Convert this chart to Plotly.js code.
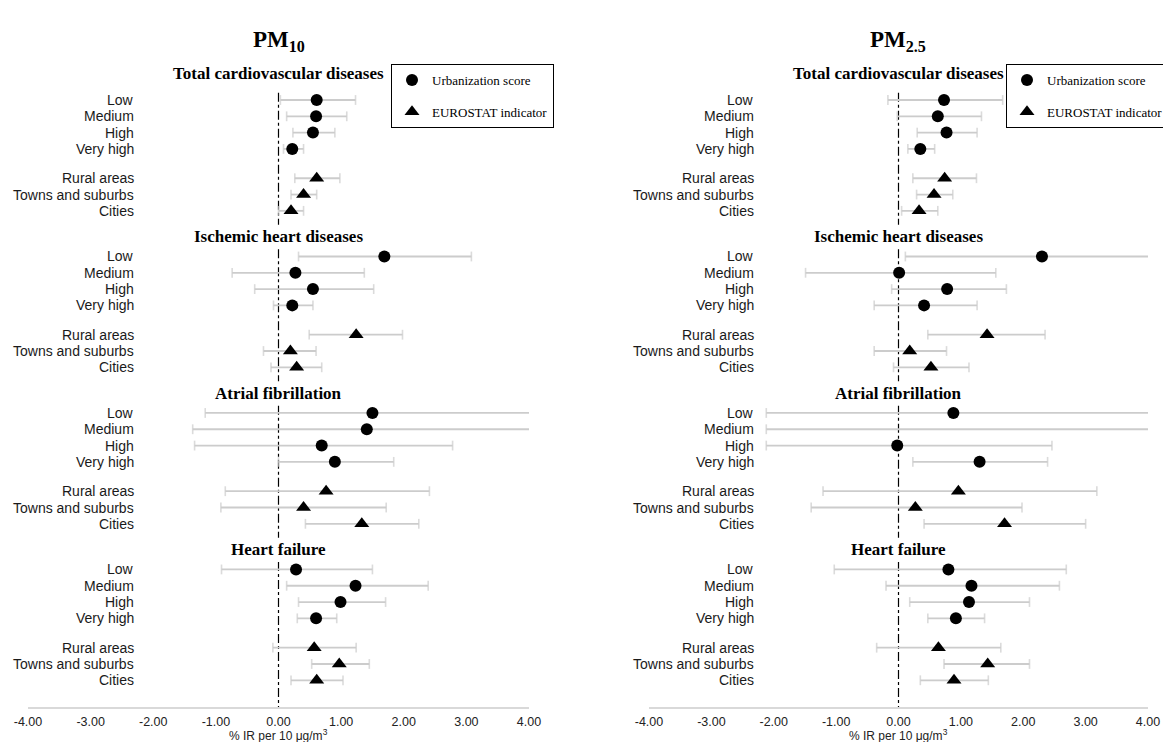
<!DOCTYPE html>
<html><head><meta charset="utf-8">
<script src="https://cdn.plot.ly/plotly-3.0.1.min.js"></script>
<style>html,body{margin:0;padding:0;background:#fff;}#chart{width:1163px;height:742px;}</style>
</head><body><div id="chart"></div>
<script>
// ---------- DATA ----------
const panelTitles = ['PM<sub>10</sub>', 'PM<sub>2.5</sub>'];
const outcomes = ['Total cardiovascular diseases', 'Ischemic heart diseases', 'Atrial fibrillation', 'Heart failure'];
const rowLabels = ['Low', 'Medium', 'High', 'Very high', 'Rural areas', 'Towns and suburbs', 'Cities'];
const seriesNames = ['Urbanization score', 'EUROSTAT indicator'];
const xTicks = [-4, -3, -2, -1, 0, 1, 2, 3, 4];
const xTitle = '% IR per 10 μg/m<sup>3</sup>';

// PM10 (rows per outcome: Low, Medium, High, Very high, Rural, Towns, Cities)
const pm10Est = [
  [0.61, 0.60, 0.55, 0.22, 0.61, 0.40, 0.20],
  [1.69, 0.27, 0.55, 0.22, 1.24, 0.19, 0.29],
  [1.50, 1.41, 0.69, 0.90, 0.76, 0.40, 1.33],
  [0.28, 1.23, 0.99, 0.60, 0.57, 0.97, 0.61]
];
const pm10Lo = [
  [0.03, 0.13, 0.23, 0.08, 0.26, 0.20, 0.00],
  [0.32, -0.74, -0.38, -0.08, 0.49, -0.24, -0.12],
  [-1.17, -1.37, -1.34, 0.00, -0.85, -0.92, 0.43],
  [-0.91, 0.13, 0.32, 0.30, -0.09, 0.53, 0.20]
];
const pm10Hi = [
  [1.23, 1.09, 0.90, 0.40, 0.98, 0.61, 0.40],
  [3.08, 1.37, 1.52, 0.55, 1.98, 0.60, 0.69],
  [4.00, 4.00, 2.78, 1.84, 2.41, 1.72, 2.24],
  [1.50, 2.39, 1.71, 0.93, 1.24, 1.45, 1.03]
];
// PM2.5
const pm25Est = [
  [0.73, 0.63, 0.77, 0.35, 0.74, 0.57, 0.33],
  [2.30, 0.01, 0.78, 0.41, 1.42, 0.18, 0.52],
  [0.88, null, -0.02, 1.30, 0.96, 0.27, 1.70],
  [0.80, 1.17, 1.13, 0.92, 0.64, 1.43, 0.89]
];
const pm25Lo = [
  [-0.17, -0.02, 0.30, 0.15, 0.23, 0.29, 0.05],
  [0.11, -1.49, -0.11, -0.39, 0.47, -0.39, -0.08],
  [-2.12, -2.12, -2.12, 0.23, -1.21, -1.40, 0.41],
  [-1.03, -0.20, 0.18, 0.47, -0.35, 0.73, 0.35]
];
const pm25Hi = [
  [1.67, 1.33, 1.26, 0.58, 1.25, 0.87, 0.63],
  [4.00, 1.56, 1.73, 1.26, 2.35, 0.77, 1.13],
  [4.00, 4.00, 2.46, 2.39, 3.18, 1.98, 3.00],
  [2.69, 2.58, 2.10, 1.38, 1.64, 2.10, 1.44]
];

// ---------- LAYOUT CONSTANTS ----------
const W = 1163, H = 742;
const plotTop = 60, plotBot = 707;
const rowPx = 16.3, firstRowPx = 100;
const rowOffsets = [0, 1, 2, 3, 4.8, 5.8, 6.8];
const sectionStep = 9.6;
const titleOffsets = [1.65, 1.2, 1.2, 1.2];
const yRange = [(plotBot - firstRowPx) / rowPx, (plotTop - firstRowPx) / rowPx];
const XMIN = -4, XMAX = 4;
const ciColor = '#cccccc';
const sans = 'Liberation Sans, Arial, sans-serif';
const serif = 'Liberation Serif, Times New Roman, serif';
function rowY(s, r) { return s * sectionStep + rowOffsets[r]; }
function paperY(px) { return (plotBot - px) / (plotBot - plotTop); }

const panels = [
  { est: pm10Est, lo: pm10Lo, hi: pm10Hi, xa: 'x', ya: 'y', leg: 'legend', dom: [28, 529], labelRight: 136, legX: 391 },
  { est: pm25Est, lo: pm25Lo, hi: pm25Hi, xa: 'x2', ya: 'y2', leg: 'legend2', dom: [649, 1148], labelRight: 756, legX: 1006 }
];

const traces = [];
const shapes = [];
const annotations = [];
const layout = {
  width: W, height: H,
  margin: { l: 0, r: 0, t: plotTop, b: H - plotBot, autoexpand: false },
  paper_bgcolor: '#fff', plot_bgcolor: '#fff',
  showlegend: true,
  shapes: shapes, annotations: annotations
};

panels.forEach((p, pi) => {
  const ciX = [], ciY = [], capX = [], capY = [], capS = [];
  const uX = [], uY = [], eX = [], eY = [];
  outcomes.forEach((o, s) => {
    rowLabels.forEach((lab, r) => {
      const y = rowY(s, r);
      const lo = p.lo[s][r], hi = p.hi[s][r], est = p.est[s][r];
      ciX.push(lo, hi, null); ciY.push(y, y, null);
      [lo, hi].forEach(v => {
        capX.push(v); capY.push(y);
        capS.push(v > XMIN && v < XMAX ? 7 : 0);
      });
      if (r < 4) { uX.push(est); uY.push(y); } else { eX.push(est); eY.push(y); }
      annotations.push({
        xref: 'paper', x: p.labelRight / W, xanchor: 'right',
        yref: p.ya, y: y, yanchor: 'middle', showarrow: false,
        text: lab, font: { family: sans, size: 14, color: '#1a1a1a' }
      });
    });
    annotations.push({
      xref: p.xa, x: 0, xanchor: 'center', yref: p.ya, y: rowY(s, 0) - titleOffsets[s], yanchor: 'middle',
      showarrow: false, text: '<b>' + o + '</b>',
      font: { family: serif, size: 17, color: '#000' }
    });
    shapes.push({
      type: 'line', xref: p.xa, yref: p.ya, x0: 0, x1: 0,
      y0: rowY(s, 0) - 0.45, y1: s === outcomes.length - 1 ? yRange[0] : rowY(s, 6) + 0.85,
      line: { color: '#000', width: 1.2, dash: 'dashdot' }, layer: 'below'
    });
  });
  traces.push({
    type: 'scatter', mode: 'lines', x: ciX, y: ciY, xaxis: p.xa, yaxis: p.ya,
    line: { color: ciColor, width: 1.8 }, showlegend: false, hoverinfo: 'skip', connectgaps: false
  });
  traces.push({
    type: 'scatter', mode: 'markers', x: capX, y: capY, xaxis: p.xa, yaxis: p.ya,
    marker: { symbol: 'line-ns', size: capS, line: { color: ciColor, width: 1.6 } },
    showlegend: false, hoverinfo: 'skip'
  });
  traces.push({
    type: 'scatter', mode: 'markers', x: uX, y: uY, xaxis: p.xa, yaxis: p.ya,
    name: seriesNames[0], legend: p.leg, legendgroup: 'u' + pi,
    marker: { symbol: 'circle', size: 12, color: '#000' }
  });
  traces.push({
    type: 'scatter', mode: 'markers', x: eX, y: eY, xaxis: p.xa, yaxis: p.ya,
    name: seriesNames[1], legend: p.leg, legendgroup: 'e' + pi,
    marker: { symbol: 'triangle-up', size: 13, color: '#000' }
  });

  const xKey = pi === 0 ? 'xaxis' : 'xaxis2';
  const yKey = pi === 0 ? 'yaxis' : 'yaxis2';
  layout[xKey] = {
    domain: [p.dom[0] / W, p.dom[1] / W], range: [XMIN, XMAX], anchor: p.ya,
    tickvals: xTicks, ticktext: xTicks.map(v => v.toFixed(2)),
    showgrid: false, zeroline: false,
    showline: true, linecolor: '#d9d9d9', linewidth: 1.5,
    ticks: 'outside', ticklen: 2, tickcolor: 'rgba(0,0,0,0)',
    tickfont: { family: sans, size: 12.5, color: '#222' },
    fixedrange: true, automargin: false
  };
  layout[yKey] = { domain: [0, 1], range: yRange, anchor: p.xa, visible: false, fixedrange: true };
  layout[p.leg] = {
    x: p.legX / W, xanchor: 'left', y: paperY(64), yanchor: 'top',
    bordercolor: '#000', borderwidth: 1, bgcolor: '#fff',
    font: { family: serif, size: 13, color: '#000' },
    itemwidth: 30, traceorder: 'grouped', tracegroupgap: 12
  };
  annotations.push({
    xref: p.xa, x: 0, xanchor: 'center', yref: 'paper', y: paperY(41), yanchor: 'middle',
    showarrow: false, text: '<b>' + panelTitles[pi] + '</b>',
    font: { family: serif, size: 23, color: '#000' }
  });
  annotations.push({
    xref: p.xa, x: 0, xanchor: 'center', yref: 'paper', y: paperY(734.5), yanchor: 'middle',
    showarrow: false, text: xTitle,
    font: { family: sans, size: 12, color: '#222' }
  });
});

Plotly.newPlot('chart', traces, layout, { displayModeBar: false, staticPlot: true });
</script>
</body></html>
